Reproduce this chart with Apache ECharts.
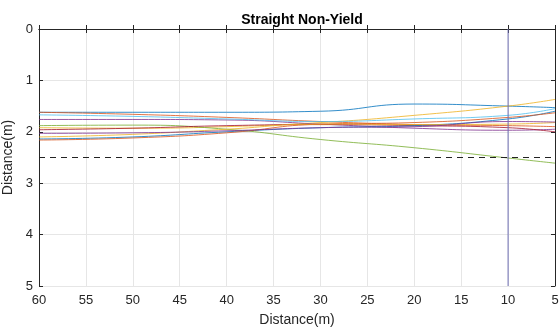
<!DOCTYPE html>
<html>
<head>
<meta charset="utf-8">
<script src="https://cdn.jsdelivr.net/npm/echarts@6/dist/echarts.min.js"></script>
<style>
  html, body { margin: 0; padding: 0; background: #fff; }
  #myChart { width: 560px; height: 332px; }
</style>
</head>
<body>
<div id="myChart"></div>
<script>
// sample positions along the road (m)
var xs = [60, 50, 40, 30, 20, 10, 5];

// lateral distance of each trajectory (m)
var track1 = [1.62, 1.62, 1.62, 1.60, 1.46, 1.50, 1.53];
var track2 = [1.62, 1.66, 1.72, 1.80, 1.86, 1.88, 1.90];
var track3 = [1.92, 1.93, 1.90, 1.82, 1.68, 1.50, 1.37];
var track4 = [1.76, 1.76, 1.77, 1.85, 1.93, 1.97, 1.95];
var track5 = [1.88, 1.87, 1.95, 2.15, 2.31, 2.51, 2.61];
var track6 = [1.67, 1.70, 1.75, 1.80, 1.75, 1.68, 1.55];
var track7 = [1.96, 1.93, 1.88, 1.86, 1.88, 1.92, 2.00];
var track8 = [2.14, 2.10, 2.00, 1.92, 1.88, 1.75, 1.60];
var track9 = [2.16, 2.12, 2.02, 1.85, 1.82, 1.72, 1.63];
var track10 = [2.10, 2.05, 1.95, 1.85, 1.86, 1.85, 1.82];
var track11 = [2.03, 2.02, 1.98, 1.92, 1.90, 1.80, 1.81];

var tracks = [track1, track2, track3, track4, track5, track6, track7, track8, track9, track10, track11];
var colors = ['#0072BD', '#D95319', '#EDB120', '#7E2F8E', '#77AC30', '#4DBEEE', '#A2142F'];

var laneLine = 2.5;   // dashed reference
var stopLine = 10;    // vertical marker

var tickColor = '#262626';
var gridColor = '#e6e6e6';
var font = 'Arial, Liberation Sans';

var myChart = echarts.init(document.getElementById('myChart'));

var series = tracks.map(function (t, i) {
  return {
    type: 'line',
    smooth: true,
    symbol: 'none',
    lineStyle: { width: 1, color: colors[i % colors.length], opacity: 0.8 },
    data: xs.map(function (x, k) { return [x, t[k]]; })
  };
});

series.push({
  type: 'line',
  symbol: 'none',
  silent: true,
  lineStyle: { width: 1, color: '#222', type: [6, 5] },
  data: [[60, laneLine], [5, laneLine]]
});
series.push({
  type: 'line',
  symbol: 'none',
  silent: true,
  z: 5,
  lineStyle: { width: 1, color: '#6e6eb4' },
  data: [[stopLine, 0], [stopLine, 5]]
});

var option = {
  animation: false,
  title: {
    text: 'Straight Non-Yield',
    left: 297,
    top: 8,
    textAlign: 'center',
    textStyle: { fontFamily: font, fontSize: 14, fontWeight: 'bold', color: '#000' }
  },
  grid: { left: 39, right: 5, top: 29, bottom: 46, outerBoundsMode: 'none' },
  xAxis: [{
    type: 'value',
    min: 5, max: 60, interval: 5,
    inverse: true,
    name: 'Distance(m)',
    nameLocation: 'middle',
    nameGap: 27,
    nameTextStyle: { fontFamily: font, fontSize: 14, color: tickColor },
    axisLine: { lineStyle: { color: tickColor, width: 1 } },
    axisTick: { inside: true, length: 4, lineStyle: { color: tickColor } },
    axisLabel: { fontFamily: font, fontSize: 13, color: tickColor, margin: 8 },
    splitLine: { show: true, lineStyle: { color: gridColor, width: 1 } }
  }, {
    type: 'value',
    position: 'top',
    min: 5, max: 60, interval: 5,
    inverse: true,
    axisLine: { lineStyle: { color: tickColor, width: 1 } },
    axisTick: { inside: true, length: 4, lineStyle: { color: tickColor } },
    axisLabel: { show: false },
    splitLine: { show: false }
  }],
  yAxis: [{
    type: 'value',
    min: 0, max: 5, interval: 1,
    inverse: true,
    name: 'Distance(m)',
    nameLocation: 'middle',
    nameGap: 18,
    nameTextStyle: { fontFamily: font, fontSize: 14, color: tickColor },
    axisLine: { show: true, lineStyle: { color: tickColor, width: 1 } },
    axisTick: { show: true, inside: true, length: 4, lineStyle: { color: tickColor } },
    axisLabel: { fontFamily: font, fontSize: 13, color: tickColor, margin: 6 },
    splitLine: { show: true, lineStyle: { color: gridColor, width: 1 } }
  }, {
    type: 'value',
    position: 'right',
    min: 0, max: 5, interval: 1,
    inverse: true,
    axisLine: { show: true, lineStyle: { color: tickColor, width: 1 } },
    axisTick: { show: true, inside: true, length: 4, lineStyle: { color: tickColor } },
    axisLabel: { show: false },
    splitLine: { show: false }
  }],
  series: series
};

myChart.setOption(option);
</script>
</body>
</html>
